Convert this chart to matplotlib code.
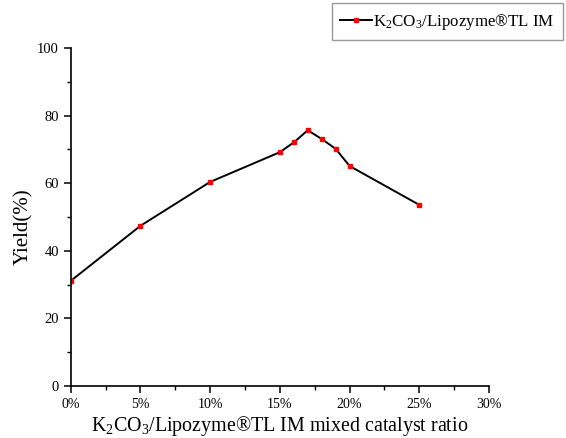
import matplotlib
matplotlib.use("Agg")
import matplotlib.pyplot as plt
from matplotlib.ticker import MultipleLocator, FuncFormatter

ratio = [0, 5, 10, 15, 16, 17, 18, 19, 20, 25]
yield_pct = [31.1, 47.4, 60.4, 69.2, 72.1, 75.7, 73.1, 70.2, 65.1, 53.6]
series_label = r"K$_2$CO$_3$/Lipozyme®TL IM"

plt.rcParams['font.family'] = ['Liberation Serif', 'DejaVu Serif']
plt.rcParams['mathtext.fontset'] = 'custom'
plt.rcParams['mathtext.rm'] = 'Liberation Serif'
plt.rcParams['mathtext.it'] = 'Liberation Serif:italic'

fig = plt.figure(figsize=(5.66, 4.38), dpi=100)
ax = fig.add_axes([0.125, 0.119, 0.739, 0.771])
ax.plot(ratio, yield_pct, color='black', lw=1.4, marker='s', ms=3.2,
        mfc='red', mec='red', label=series_label)
ax.set_xlim(0, 30)
ax.set_ylim(0, 100)
for s in ['top', 'right']:
    ax.spines[s].set_visible(False)
for s in ['left', 'bottom']:
    ax.spines[s].set_linewidth(1.2)
ax.xaxis.set_major_locator(MultipleLocator(5))
ax.xaxis.set_minor_locator(MultipleLocator(2.5))
ax.yaxis.set_major_locator(MultipleLocator(20))
ax.yaxis.set_minor_locator(MultipleLocator(10))
ax.xaxis.set_major_formatter(FuncFormatter(lambda v, p: f"{v:.0f}%"))
ax.tick_params(which='major', direction='out', length=5, width=1.1, labelsize=10.5, colors='black')
ax.tick_params(which='minor', direction='out', length=3, width=1.0)
ax.tick_params(axis='x', labelsize=10)
ax.set_xlabel(r"K$_2$CO$_3$/Lipozyme®TL IM mixed catalyst ratio", fontsize=14.4)
ax.xaxis.set_label_coords(0.5, -0.083)
ax.set_ylabel("Yield(%)", fontsize=15)
ax.yaxis.set_label_coords(-0.09, 0.47)
leg = fig.legend(loc='upper right', bbox_to_anchor=(0.995, 0.993), fontsize=12.2,
                 frameon=True, fancybox=False, edgecolor='gray', handlelength=1.9,
                 handletextpad=0.05, borderpad=0.5, borderaxespad=0, markerscale=0.8)
leg.get_frame().set_linewidth(1.0)
fig.savefig("out.png", dpi=100)
